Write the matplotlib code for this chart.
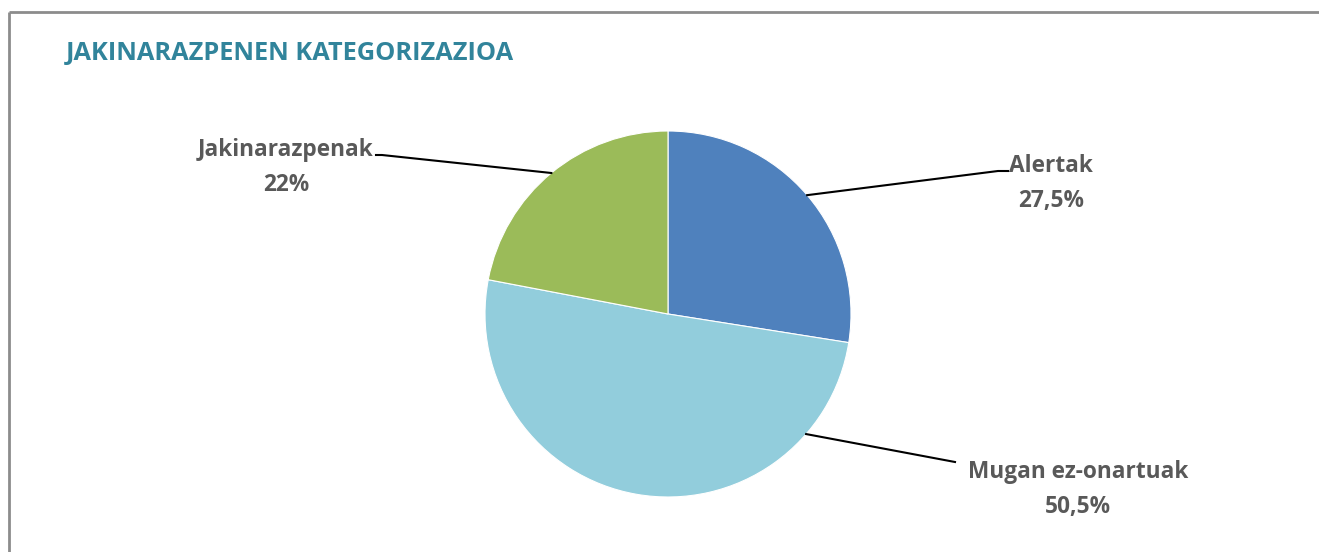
import matplotlib.pyplot as plt
import numpy as np

# data
categories = ['Alertak', 'Mugan ez-onartuak', 'Jakinarazpenak']
shares = [27.5, 50.5, 22.0]
pct_labels = ['27,5%', '50,5%', '22%']
colors = ['#4F81BD', '#92CDDC', '#9BBB59']
title = 'JAKINARAZPENEN KATEGORIZAZIOA'

plt.rcParams['font.family'] = ['Open Sans', 'DejaVu Sans']

W, H = 1319, 552
fig = plt.figure(figsize=(W / 100, H / 100), dpi=100)
ax = fig.add_axes([0, 0, 1, 1])

# chart frame (only top/left visible in the crop)
ax.plot([8.5, W + 5], [H - 11.5, H - 11.5], color='#8c8c8c', lw=2, solid_capstyle='butt')
ax.plot([8.5, 8.5], [H - 11.5, -5], color='#8c8c8c', lw=2, solid_capstyle='butt')

cx, cy, r = 668, H - 314, 183
wedges, _ = ax.pie(shares, colors=colors, startangle=90, counterclock=False,
                   center=(cx, cy), radius=r, frame=True,
                   wedgeprops=dict(linewidth=0.8, edgecolor='white'))
ax.set_xlim(0, W)
ax.set_ylim(0, H)
ax.axis('off')

# label layout: text centre, leader elbow, leader end, anchor angle (None = wedge mid)
text_pos = [(1051, H - 183.5), (1078, H - 489.5), (286, H - 167.5)]
elbow = [(998, H - 171), (955, H - 462), (382, H - 155)]
tail = [(1008, H - 171), (955, H - 462), (376, H - 155)]
anchor_angle = [None, -41, None]

for w, name, pct, tp, el, tl, aa in zip(wedges, categories, pct_labels,
                                         text_pos, elbow, tail, anchor_angle):
    ang = (w.theta1 + w.theta2) / 2 if aa is None else aa
    x0 = cx + r * np.cos(np.radians(ang))
    y0 = cy + r * np.sin(np.radians(ang))
    ax.plot([x0, el[0], tl[0]], [y0, el[1], tl[1]], color='black', lw=1.5)
    ax.text(tp[0], tp[1], f'{name}\n{pct}', ha='center', va='center',
            fontsize=16.3, fontweight='bold', color='#595959', linespacing=1.62)

ax.text(66, H - 53, title, ha='left', va='center', fontsize=18.3,
        fontweight='bold', color='#31849B')

fig.savefig('out.png', dpi=100)
